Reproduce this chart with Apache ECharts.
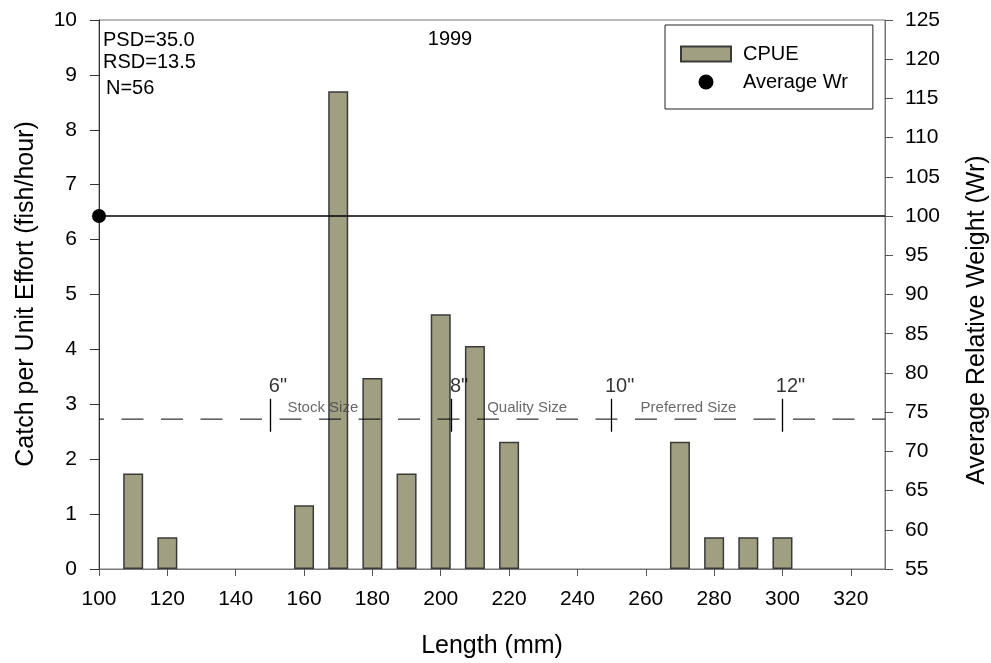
<!DOCTYPE html>
<html><head><meta charset="utf-8">
<script src="https://cdn.jsdelivr.net/npm/echarts@6/dist/echarts.min.js"></script>
<style>html,body{margin:0;padding:0;background:#fff}#c{width:991px;height:663px}</style>
</head><body><div id="c"></div>
<script>
// ---- data ----
const lengths = [110, 120, 160, 170, 180, 190, 200, 210, 220, 270, 280, 290, 300];
const cpue = [1.74, 0.58, 1.16, 8.70, 3.48, 1.74, 4.64, 4.06, 2.32, 2.32, 0.58, 0.58, 0.58];
const wrLength = [100];
const wrValue = [100];
const xTicks = [100, 120, 140, 160, 180, 200, 220, 240, 260, 280, 300, 320];
const sizeLineCpue = 2.73;
const sizeMarkX = [150, 203, 250, 300];
const sizeMarkLabels = ['6"', '8"', '10"', '12"'];
const sizeMarkTop = 3.1;
const sizeMarkBottom = 2.5;
const sizeClassX = [165.5, 225.3, 272.5];
const sizeClassNames = ['Stock Size', 'Quality Size', 'Preferred Size'];
const sizeClassY = 2.94;
const statTexts = ['PSD=35.0', 'RSD=13.5', 'N=56'];
const yearText = '1999';

const FONT = 'Liberation Sans, Arial, sans-serif';

const chart = echarts.init(document.getElementById('c'), null, {renderer: 'canvas'});
const option = {
  animation: false,
  backgroundColor: '#fff',
  textStyle: {fontFamily: FONT},
  grid: {left: 99, right: 106, top: 20, bottom: 94, show: true, borderColor: '#777', borderWidth: 1, backgroundColor: 'transparent'},
  legend: {
    data: [{name: 'CPUE', icon: 'rect'}, {name: 'Average Wr', icon: 'circle'}],
    orient: 'vertical', left: 665, top: 25,
    padding: [19, 25, 17, 15],
    itemWidth: 50, itemHeight: 15, itemGap: 8,
    borderColor: '#222', borderWidth: 1,
    textStyle: {fontSize: 20, color: '#000', fontFamily: FONT, lineHeight: 20, padding: [0, 0, 0, 7]},
    selectedMode: false
  },
  xAxis: {
    type: 'value', min: 100, max: 330, interval: 20,
    axisLine: {show: true, lineStyle: {color: '#777', width: 1}},
    axisTick: {show: true, customValues: xTicks, length: 7, lineStyle: {color: '#555'}},
    axisLabel: {customValues: xTicks, fontSize: 21, color: '#000', margin: 20, fontFamily: FONT,
      formatter: v => (v > 320 ? '' : String(v))},
    splitLine: {show: false}
  },
  yAxis: [{
    type: 'value', min: 0, max: 10, interval: 1, position: 'left',
    axisLine: {show: true, lineStyle: {color: '#333', width: 1}},
    axisTick: {show: true, length: 9, lineStyle: {color: '#333'}},
    axisLabel: {fontSize: 21, color: '#000', margin: 22, fontFamily: FONT},
    splitLine: {show: false}
  }, {
    type: 'value', min: 55, max: 125, interval: 5, position: 'right',
    axisLine: {show: true, lineStyle: {color: '#777', width: 1}},
    axisTick: {show: true, length: 8, lineStyle: {color: '#555'}},
    axisLabel: {fontSize: 21, color: '#000', margin: 20, fontFamily: FONT},
    splitLine: {show: false}
  }],
  series: [{
    name: 'CPUE', type: 'bar', barWidth: 20, z: 2,
    data: lengths.map((x, i) => [x, cpue[i]]),
    itemStyle: {color: '#a19f81', borderColor: '#3a3a3a', borderWidth: 1.5}
  }, {
    name: 'Average Wr', type: 'scatter', yAxisIndex: 1, symbol: 'circle', symbolSize: 14, clip: false, z: 5,
    data: wrLength.map((x, i) => [x, wrValue[i]]),
    itemStyle: {color: '#000', opacity: 1},
    markLine: {silent: true, symbol: 'none', label: {show: false},
      lineStyle: {color: '#000', type: 'solid', width: 1.5},
      data: wrValue.map(v => ({yAxis: v}))}
  }, {
    name: 'sizeLine', type: 'line', symbol: 'none', silent: true, z: 3,
    data: [[100, sizeLineCpue], [330, sizeLineCpue]],
    lineStyle: {color: '#000', width: 1, type: [22, 17.5], dashOffset: 17},
    markLine: {silent: true, symbol: 'none', label: {show: false},
      lineStyle: {color: '#000', type: 'solid', width: 1.3},
      data: sizeMarkX.map(x => [{coord: [x, sizeMarkTop]}, {coord: [x, sizeMarkBottom]}])}
  }, {
    name: 'inchLabels', type: 'scatter', symbolSize: 0, silent: true, z: 4,
    data: sizeMarkX.map((x, i) => ({value: [x, sizeMarkTop], label: {formatter: sizeMarkLabels[i]}})),
    label: {show: true, position: 'top', distance: 2, offset: [8, 0], fontSize: 20, color: '#000', fontFamily: FONT}
  }, {
    name: 'classLabels', type: 'scatter', symbolSize: 0, silent: true, z: 4,
    data: sizeClassX.map((x, i) => ({value: [x, sizeClassY], label: {formatter: sizeClassNames[i]}})),
    label: {show: true, position: 'inside', fontSize: 15, color: '#444', fontFamily: FONT}
  }],
  graphic: [
    {type: 'text', x: 103, y: 40, style: {text: statTexts[0], font: '20px ' + FONT, fill: '#000', align: 'left', verticalAlign: 'middle'}},
    {type: 'text', x: 103, y: 62, style: {text: statTexts[1], font: '20px ' + FONT, fill: '#000', align: 'left', verticalAlign: 'middle'}},
    {type: 'text', x: 106, y: 88, style: {text: statTexts[2], font: '20px ' + FONT, fill: '#000', align: 'left', verticalAlign: 'middle'}},
    {type: 'text', x: 450, y: 39, style: {text: yearText, font: '20px ' + FONT, fill: '#000', align: 'center', verticalAlign: 'middle'}},
    {type: 'text', x: 26, y: 294, rotation: Math.PI / 2, style: {text: 'Catch per Unit Effort (fish/hour)', font: '25px ' + FONT, fill: '#000', align: 'center', verticalAlign: 'middle'}},
    {type: 'text', x: 977, y: 320, rotation: Math.PI / 2, style: {text: 'Average Relative Weight (Wr)', font: '25px ' + FONT, fill: '#000', align: 'center', verticalAlign: 'middle'}},
    {type: 'text', x: 492, y: 646, style: {text: 'Length (mm)', font: '25px ' + FONT, fill: '#000', align: 'center', verticalAlign: 'middle'}}
  ]
};
chart.setOption(option);
</script>
</body></html>
